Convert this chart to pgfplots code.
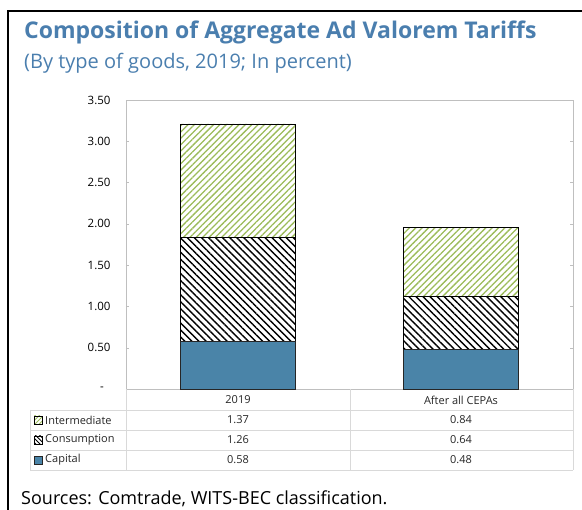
\documentclass[border=0pt]{standalone}
\usepackage{fontspec}
\setmainfont{Open Sans}
\usepackage{pgfplots}
\pgfplotsset{compat=1.18}
\usetikzlibrary{patterns.meta}
\definecolor{titleblue}{RGB}{74,126,174}
\definecolor{capblue}{RGB}{74,132,168}
\definecolor{intgreen}{RGB}{155,187,89}
\definecolor{gridgray}{RGB}{217,217,217}
\definecolor{axgray}{RGB}{191,191,191}
\begin{document}
\begin{tikzpicture}[x=1pt,y=1pt]
\path[use as bounding box] (0,0) rectangle (582,-510);
\draw[line width=2pt] (8,-510) -- (8,-11) -- (583,-11);
\node[anchor=base west, text=titleblue, font=\fontsize{23}{27}\selectfont\bfseries, inner sep=0] at (24,-39) {Composition of Aggregate Ad Valorem Tariffs};
\node[anchor=base west, text=titleblue, font=\fontsize{20}{24}\selectfont, inner sep=0] at (24,-69) {(By type of goods, 2019; In percent)};
\begin{axis}[
  at={(126pt,-389pt)}, anchor=south west,
  scale only axis, width=447pt, height=289pt,
  xmin=-0.5, xmax=1.5, ymin=0, ymax=3.5,
  xtick=\empty,
  ytick={0,0.5,1,1.5,2,2.5,3,3.5},
  yticklabels={{-\hphantom{0}},0.50,1.00,1.50,2.00,2.50,3.00,3.50},
  yticklabel style={font=\fontsize{11.5}{13}\selectfont, xshift=-12pt},
  /pgf/number format/assume math mode=true,
  axis line style={axgray},
  ytick style={axgray},
  tick align=inside, major tick length=3pt,
  ybar stacked, bar width=115pt,
  clip=false,
]
\addplot[fill=capblue, draw=black!85, line width=0.8pt] coordinates {(0,0.58) (1,0.48)};
\addplot[pattern={Lines[angle=-45,distance=5pt,line width=1.4pt]}, pattern color=black, draw=black, line width=0.8pt] coordinates {(0,1.26) (1,0.64)};
\addplot[pattern={Lines[angle=45,distance=4.5pt,line width=1.3pt]}, pattern color=intgreen, draw=black, line width=0.8pt] coordinates {(0,1.37) (1,0.84)};
\end{axis}
% data table
\foreach \yy in {410,430,450,470} {\draw[gridgray, line width=0.8pt] (30,-\yy) -- (573,-\yy);}
\draw[gridgray, line width=0.8pt] (30,-410) -- (30,-470);
\foreach \xx in {126,350,573} {\draw[gridgray, line width=0.8pt] (\xx,-389) -- (\xx,-470);}
\begin{scope}[every node/.style={font=\fontsize{11}{13}\selectfont, text=black!85, inner sep=0}]
\node at (238,-400) {2019};
\node at (461,-400) {After all CEPAs};
\node at (238,-420) {1.37}; \node at (461,-420) {0.84};
\node at (238,-440) {1.26}; \node at (461,-440) {0.64};
\node at (238,-460) {0.58}; \node at (461,-460) {0.48};
\node[anchor=west] at (45,-420) {Intermediate};
\node[anchor=west] at (45,-440) {Consumption};
\node[anchor=west] at (45,-460) {Capital};
\end{scope}
\draw[black, line width=0.7pt, pattern={Lines[angle=45,distance=3pt,line width=0.9pt]}, pattern color=intgreen] (34,-416) rectangle (42,-424);
\draw[black, line width=0.7pt, pattern={Lines[angle=-45,distance=3pt,line width=0.9pt]}, pattern color=black] (34,-436) rectangle (42,-444);
\draw[black!85, line width=0.7pt, fill=capblue] (34,-456) rectangle (42,-464);
\node[anchor=base west, font=\fontsize{18}{22}\selectfont, inner sep=0] at (21,-505) {Sources: Comtrade, WITS-BEC classification.};
\end{tikzpicture}
\end{document}
